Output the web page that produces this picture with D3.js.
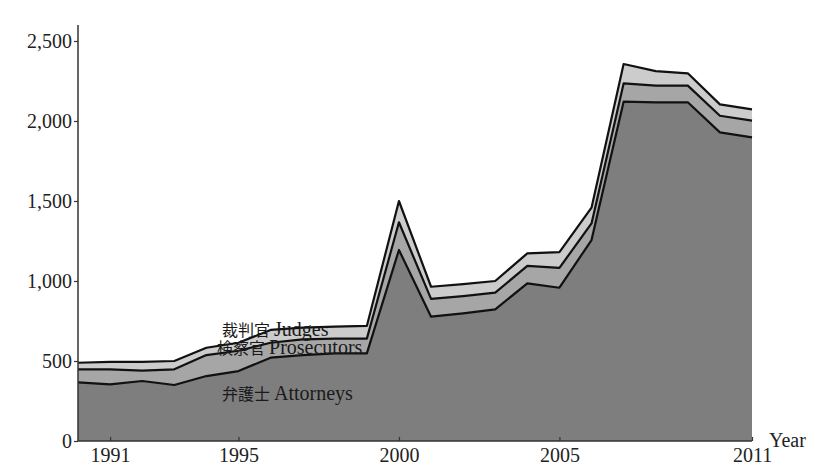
<!DOCTYPE html>
<html>
<head>
<meta charset="utf-8">
<script src="https://cdn.jsdelivr.net/npm/d3@7"></script>
<style>
  html, body { margin: 0; padding: 0; background: #fff; }
  svg { display: block; }
  .tick text { font-family: "Liberation Serif", "Times New Roman", serif; }
</style>
</head>
<body>
<svg id="chart" width="819" height="467"></svg>
<script>
// New entrants to the legal profession per year (stacked)
const years = [1990, 1991, 1992, 1993, 1994, 1995, 1996, 1997, 1998, 1999, 2000,
               2001, 2002, 2003, 2004, 2005, 2006, 2007, 2008, 2009, 2010, 2011];
const attorneys   = [367, 354, 375, 350, 406, 437, 521, 537, 548, 548, 1194,
                     777, 798, 823, 985, 958, 1256, 2121, 2117, 2117, 1929, 1898];
const prosecutors = [81, 94, 65, 98, 131, 127, 93, 98, 92, 92, 173,
                     111, 108, 104, 109, 124, 104, 114, 104, 104, 104, 104];
const judges      = [41, 46, 54, 52, 46, 50, 80, 73, 75, 79, 133,
                     76, 75, 73, 79, 98, 98, 121, 91, 77, 71, 71];
const xTicks = [1991, 1995, 2000, 2005, 2011];
const yTicks = [0, 500, 1000, 1500, 2000, 2500];

const keys = ["attorneys", "prosecutors", "judges"];
const fills = { attorneys: "#7e7e7e", prosecutors: "#a6a6a6", judges: "#cccccc" };
const labels = [
  { key: "judges",      cjk: "裁判官", latin: "Judges",      x: 222, y: 336 },
  { key: "prosecutors", cjk: "検察官", latin: "Prosecutors", x: 217, y: 354 },
  { key: "attorneys",   cjk: "弁護士", latin: "Attorneys",   x: 222, y: 400 }
];

const table = years.map((yr, i) => ({
  year: yr, attorneys: attorneys[i], prosecutors: prosecutors[i], judges: judges[i]
}));

const svg = d3.select("#chart");
const x = d3.scaleLinear().domain([1990, 2011]).range([78, 752]);
const y = d3.scaleLinear().domain([0, 2600]).range([441, 25]);

const series = d3.stack().keys(keys)(table);

const area = d3.area()
  .x(d => x(d.data.year))
  .y0(d => y(d[0]))
  .y1(d => y(d[1]));

const topLine = d3.line()
  .x(d => x(d.data.year))
  .y(d => y(d[1]));

const g = svg.append("g");
g.selectAll("path.layer")
  .data(series)
  .join("path")
  .attr("class", "layer")
  .attr("d", area)
  .attr("fill", s => fills[s.key]);

g.selectAll("path.edge")
  .data(series)
  .join("path")
  .attr("class", "edge")
  .attr("d", topLine)
  .attr("fill", "none")
  .attr("stroke", "#111")
  .attr("stroke-width", 2.2)
  .attr("stroke-linejoin", "round");

// Axes
const fontFamily = '"Liberation Serif", "Times New Roman", serif';

const yAxis = svg.append("g")
  .attr("transform", `translate(${x(1990)},0)`)
  .call(d3.axisLeft(y).tickValues(yTicks).tickSize(4).tickPadding(2)
    .tickFormat(d3.format(",")));
yAxis.select(".domain").attr("d", `M0,${y(0)}V${y(2600)}`)
  .attr("stroke", "#333").attr("stroke-width", 1.5);
yAxis.selectAll(".tick line").attr("stroke", "#333").attr("stroke-width", 1.2);
yAxis.selectAll(".tick text")
  .attr("font-size", 20).attr("fill", "#222").attr("font-family", fontFamily);

const xAxis = svg.append("g")
  .attr("transform", `translate(0,${y(0)})`)
  .call(d3.axisBottom(x).tickValues(xTicks).tickSize(-4).tickPadding(7)
    .tickFormat(d3.format("d")));
xAxis.select(".domain").attr("d", `M${x(1990)},0H${x(2011)}`)
  .attr("stroke", "#333").attr("stroke-width", 1.5);
xAxis.selectAll(".tick line").attr("stroke", "#333").attr("stroke-width", 1.2);
xAxis.selectAll(".tick text")
  .attr("font-size", 20).attr("fill", "#222").attr("font-family", fontFamily);

svg.append("text")
  .attr("x", 769).attr("y", 447)
  .attr("font-family", fontFamily).attr("font-size", 20).attr("fill", "#222")
  .text("Year");

// Series labels (Japanese + English)
const lab = svg.append("g").selectAll("text")
  .data(labels)
  .join("text")
  .attr("x", d => d.x).attr("y", d => d.y)
  .attr("fill", "#1a1a1a");
lab.append("tspan")
  .attr("font-family", '"Noto Sans CJK JP", sans-serif')
  .attr("font-size", 16)
  .text(d => d.cjk);
lab.append("tspan")
  .attr("dx", 4)
  .attr("font-family", fontFamily)
  .attr("font-size", 20)
  .text(d => d.latin);
</script>
</body>
</html>
